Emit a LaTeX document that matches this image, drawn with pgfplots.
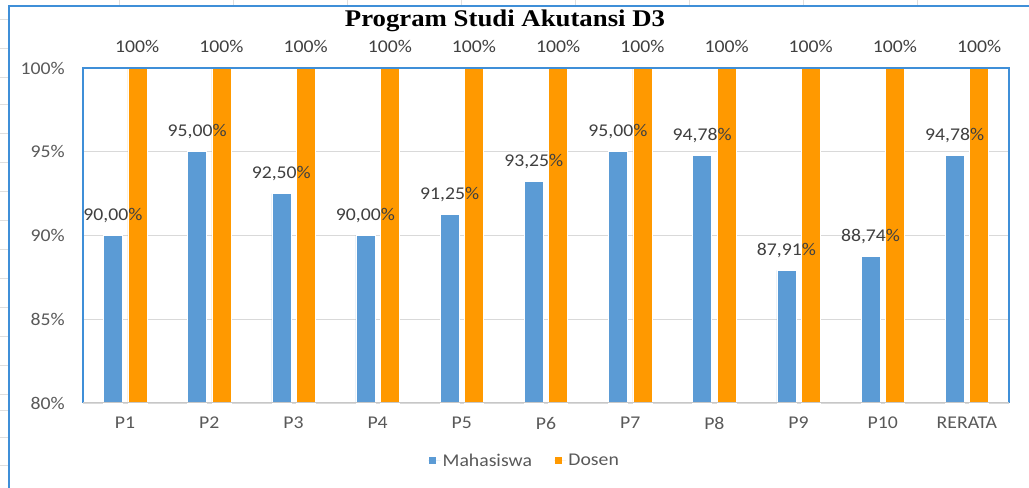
\documentclass[border=0pt]{standalone}
\usepackage{pgfplots}
\pgfplotsset{compat=1.18}
\usepackage{fontspec}
\setmainfont[FakeStretch=1.1]{Carlito}
\newfontfamily\titlefont[FakeStretch=1.12]{Liberation Serif}
\definecolor{mblue}{HTML}{5B9BD5}
\definecolor{dorange}{HTML}{FF9900}
\definecolor{txtgray}{HTML}{595959}
\definecolor{lblgray}{HTML}{404040}
\definecolor{gridgray}{HTML}{D9D9D9}
\definecolor{framebl}{HTML}{3F8FD8}
\begin{document}
\begin{tikzpicture}[x=1bp,y=1bp]
\useasboundingbox (0,0) rectangle (1029,488);
\fill[white] (0,0) rectangle (1029,488);
% faint spreadsheet cell lines
\foreach \xx in {119,233,347,461,575,689,803,917} {\draw[gray!25,line width=0.6bp] (\xx,482) -- (\xx,488);}
\foreach \yy in {19,48,77,104,133,162,191,220,249,278,307,336,365,394,410,437,465} {\draw[gray!25,line width=0.6bp] (0,488-\yy) -- (9,488-\yy);}
% outer chart frame
\draw[framebl,line width=1.2bp] (9,0) -- (9,482) -- (1029,482);
\node[font=\titlefont\bfseries\fontsize{24}{27}\selectfont,anchor=center] at (505,467) {Program Studi Akutansi D3};
\begin{axis}[
  at={(83bp,85bp)}, anchor=south west,
  scale only axis, width=926bp, height=335bp,
  ymin=80, ymax=100,
  xmin=-0.5, xmax=10.5,
  ytick={80,85,90,95,100},
  yticklabel={\pgfmathprintnumber[fixed,precision=0]{\tick}\%},
  xtick=data,
  xticklabels={P1,P2,P3,P4,P5,P6,P7,P8,P9,P10,RERATA},
  /pgf/number format/assume math mode=true,
  major tick length=0pt,
  ymajorgrids, grid style={gridgray,line width=0.8bp},
  axis line style={draw=none},
  tick label style={font=\fontsize{18}{20}\selectfont,text=txtgray},
  yticklabel style={anchor=east,inner sep=0pt,xshift=-18bp},
  xticklabel style={anchor=north,inner sep=0pt,yshift=-14bp},
  ybar, bar width=19bp,
  clip=false,
  nodes near coords,
  every node near coord/.append style={font=\fontsize{18}{20}\selectfont,text=lblgray,anchor=base,inner sep=0pt,yshift=15bp},
  legend columns=2,
  legend style={at={(0.4768,-0.173)},anchor=center,draw=none,fill=none,
    font=\fontsize{18}{20}\selectfont,text=txtgray,
    /tikz/every even column/.append style={column sep=20bp}},
  legend image code/.code={\path (-1bp,0) -- (11bp,0);\fill[#1,draw=none] (0bp,-3.5bp) rectangle (7bp,3.5bp);},
  after end axis/.code={
    \draw[framebl,line width=1.2bp] (rel axis cs:0,0) -- (rel axis cs:0,1) -- (rel axis cs:1,1) -- (rel axis cs:1,0);
    \draw[gridgray!80!gray,line width=1bp] (rel axis cs:0,0) -- (rel axis cs:1,0);
  },
]
\addplot[fill=mblue,draw=white,line width=0.5bp,bar shift=-12.2bp,
  nodes near coords={\pgfmathprintnumber[fixed,fixed zerofill,precision=2,use comma]{\pgfplotspointmeta}\%}]
  coordinates {(0,90.00) (1,95.00) (2,92.50) (3,90.00) (4,91.25) (5,93.25) (6,95.00) (7,94.78) (8,87.91) (9,88.74) (10,94.78)};
\addplot[fill=dorange,draw=white,line width=0.5bp,bar shift=12.2bp,
  nodes near coords={\pgfmathprintnumber[fixed,precision=0]{\pgfplotspointmeta}\%}]
  coordinates {(0,100) (1,100) (2,100) (3,100) (4,100) (5,100) (6,100) (7,100) (8,100) (9,100) (10,100)};
\legend{Mahasiswa,Dosen}
\end{axis}
\end{tikzpicture}
\end{document}
